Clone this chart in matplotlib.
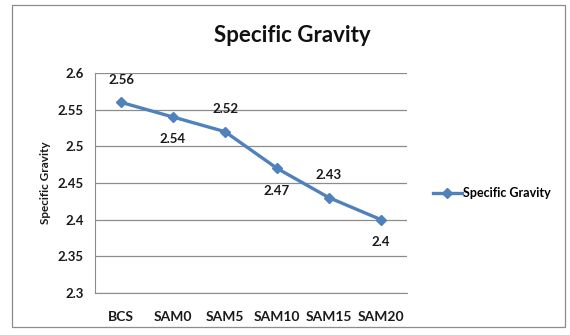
import matplotlib
matplotlib.use('Agg')
import matplotlib.pyplot as plt
from matplotlib.patches import Rectangle

categories = ['BCS', 'SAM0', 'SAM5', 'SAM10', 'SAM15', 'SAM20']
gravity = [2.56, 2.54, 2.52, 2.47, 2.43, 2.40]
label_text = ['2.56', '2.54', '2.52', '2.47', '2.43', '2.4']
label_side = [1, -1, 1, -1, 1, -1]   # above / below the point
y_ticks = [2.3, 2.35, 2.4, 2.45, 2.5, 2.55, 2.6]
y_tick_labels = ['2.3', '2.35', '2.4', '2.45', '2.5', '2.55', '2.6']

plt.rcParams['font.family'] = ['Lato', 'DejaVu Sans']
blue = '#4F81BD'
txt = '#1a1a1a'

fig = plt.figure(figsize=(5.7, 3.35), dpi=100)
# axes box in pixels: x 95..407, y 73..293 (from top)
ax = fig.add_axes([95/570, 1 - 293/335, 312/570, 220/335])

x = list(range(len(categories)))
line, = ax.plot(x, gravity, color=blue, lw=2.4, marker='D', ms=5.5,
                label='Specific Gravity')

for xi, v, t, s in zip(x, gravity, label_text, label_side):
    ax.annotate(t, (xi, v), xytext=(0, 16 * s), textcoords='offset points',
                ha='center', va='center', fontsize=9.5, fontweight='bold',
                color=txt)

ax.set_xlim(-0.5, len(categories) - 0.5)
ax.set_ylim(2.3, 2.6)
ax.set_yticks(y_ticks)
ax.set_yticklabels(y_tick_labels)
ax.set_xticks(x)
ax.set_xticklabels(categories)
ax.tick_params(length=0, labelsize=9.5, colors=txt, pad=8)
ax.tick_params(axis='x', labelsize=10, pad=13)
for lab in ax.get_xticklabels() + ax.get_yticklabels():
    lab.set_fontweight('bold')

ax.grid(axis='y', color='#8c8c8c', lw=0.9)
ax.set_axisbelow(True)
for side in ['top', 'right']:
    ax.spines[side].set_visible(False)
ax.spines['left'].set_color('#8c8c8c')
ax.spines['bottom'].set_color('#8c8c8c')

ax.set_ylabel('Specific Gravity', fontsize=8.5, fontweight='bold',
              color=txt, labelpad=5)

fig.text(292/570, 1 - 35/335, 'Specific Gravity', ha='center', va='center',
         fontsize=16, fontweight='bold', color='#111111')

leg = fig.legend(handles=[line], loc='center left',
                 bbox_to_anchor=(428/570, 1 - 193/335), frameon=False,
                 prop={'size': 9, 'weight': 'bold'}, handlelength=2.3,
                 handletextpad=0.1, borderaxespad=0)

fig.patches.append(Rectangle((12/570, 1 - 327/335), 553/570, 322/335,
                             transform=fig.transFigure, fill=False,
                             edgecolor='#8c8c8c', lw=0.9))

fig.savefig('out.png', dpi=100)
